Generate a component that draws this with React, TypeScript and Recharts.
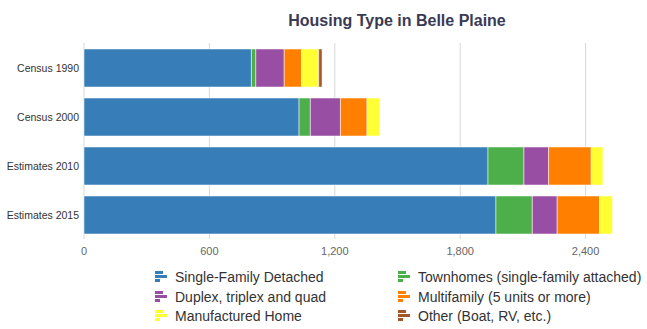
import React from 'react';
import { BarChart, Bar, XAxis, YAxis, CartesianGrid } from 'recharts';

const categories = ['Census 1990', 'Census 2000', 'Estimates 2010', 'Estimates 2015'];

const singleFamily = [801, 1029, 1933, 1971];
const townhomes = [21, 54, 172, 174];
const duplex = [136, 144, 118, 119];
const multifamily = [83, 127, 204, 203];
const manufactured = [82, 61, 56, 62];
const other = [16, 0, 0, 0];

const xTicks = [0, 600, 1200, 1800, 2400];

const series = [
  { key: 'single', name: 'Single-Family Detached', color: '#377eb8', values: singleFamily },
  { key: 'town', name: 'Townhomes (single-family attached)', color: '#4daf4a', values: townhomes },
  { key: 'duplex', name: 'Duplex, triplex and quad', color: '#984ea3', values: duplex },
  { key: 'multi', name: 'Multifamily (5 units or more)', color: '#ff7f00', values: multifamily },
  { key: 'manuf', name: 'Manufactured Home', color: '#ffff33', values: manufactured },
  { key: 'other', name: 'Other (Boat, RV, etc.)', color: '#a65628', values: other },
];

const data = categories.map((c, i) => {
  const row: Record<string, string | number> = { category: c };
  series.forEach((s) => {
    row[s.key] = s.values[i];
  });
  return row;
});

const fmt = (v: number) => v.toLocaleString('en-US');

const YTick = (props: any) => {
  const { x, y, payload } = props;
  return (
    <text x={x + 3} y={y} dy={4} textAnchor="end" fontSize={10.5} fill="#333">
      {payload.value}
    </text>
  );
};

const LegendIcon = ({ color }: { color: string }) => (
  <svg width="14" height="14" style={{ marginRight: 6, flexShrink: 0 }}>
    <rect x="0" y="1" width="8" height="3" fill={color} />
    <rect x="0" y="5" width="12" height="3" fill={color} />
    <rect x="0" y="9" width="5" height="3" fill={color} />
  </svg>
);

const App: React.FC = () => {
  return (
    <div
      style={{
        position: 'absolute',
        left: 0,
        top: 0,
        width: 647,
        height: 329,
        overflow: 'hidden',
        background: '#fff',
        fontFamily: '"Liberation Sans", Arial, sans-serif',
      }}
    >
      <div
        style={{
          position: 'absolute',
          left: 0,
          top: 12,
          width: 794,
          textAlign: 'center',
          fontSize: 16,
          fontWeight: 'bold',
          color: '#3a3a55',
        }}
      >
        Housing Type in Belle Plaine
      </div>
      <div style={{ position: 'absolute', left: 0, top: 0 }}>
        <BarChart
          width={720}
          height={265}
          data={data}
          layout="vertical"
          margin={{ top: 43, right: 9, bottom: 0, left: 0 }}
          barSize={38}
        >
          <CartesianGrid horizontal={false} stroke="#d8d8d8" />
          <XAxis
            type="number"
            domain={[0, 3000]}
            ticks={xTicks}
            tickFormatter={fmt}
            axisLine={false}
            tickLine={false}
            height={26}
            tick={{ fontSize: 11, fill: '#666' }}
          />
          <YAxis
            type="category"
            dataKey="category"
            width={84}
            axisLine={false}
            tickLine={false}
            tick={<YTick />}
          />
          {series.map((s) => (
            <Bar
              key={s.key}
              dataKey={s.key}
              name={s.name}
              stackId="a"
              fill={s.color}
              stroke="#ffffff"
              strokeOpacity={0.5}
              strokeWidth={1}
              isAnimationActive={false}
            />
          ))}
        </BarChart>
      </div>
      <div
        style={{
          position: 'absolute',
          left: 155,
          top: 268,
          display: 'grid',
          gridTemplateColumns: '243px 250px',
          rowGap: 1,
          fontSize: 14,
          color: '#333',
          whiteSpace: 'nowrap',
        }}
      >
        {series.map((s) => (
          <div key={s.key} style={{ display: 'flex', alignItems: 'center', height: 18.5 }}>
            <LegendIcon color={s.color} />
            <span>{s.name}</span>
          </div>
        ))}
      </div>
    </div>
  );
};

export default App;
